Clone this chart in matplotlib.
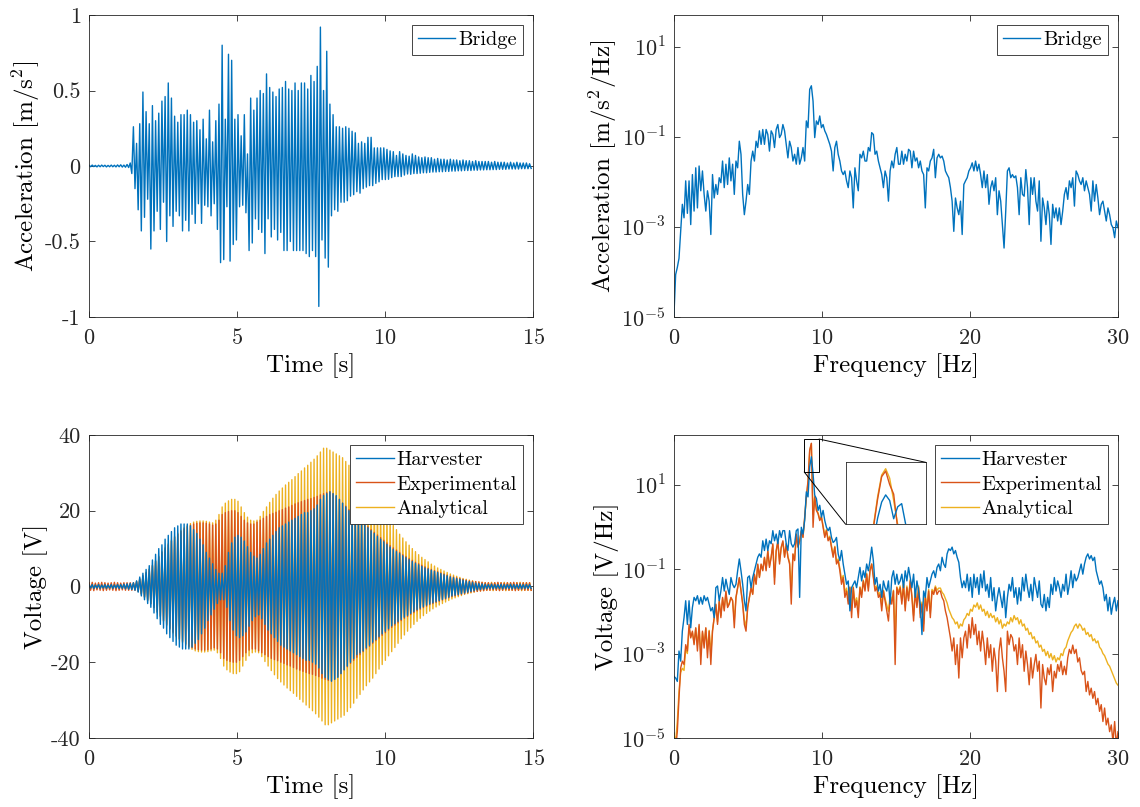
import numpy as np
import matplotlib
matplotlib.use("Agg")
import matplotlib.pyplot as plt
from matplotlib.patches import Rectangle, ConnectionPatch
from matplotlib.ticker import NullLocator

plt.rcParams['font.family'] = 'serif'
plt.rcParams['font.serif'] = ['cmr10']
plt.rcParams['mathtext.fontset'] = 'cm'
plt.rcParams['axes.unicode_minus'] = False
plt.rcParams['axes.formatter.use_mathtext'] = True

BLUE = '#0072BD'
RED = '#D95319'
YELLOW = '#EDB120'
AX_COLOR = '#262626'
LABEL_SIZE = 18

# peaks are sampled once per half period of the dominant bridge mode
carrier_hz = 9.34

# bridge acceleration: positive / negative peak per cycle [m/s^2]
accel_pos = [
    0.005, 0.006, 0.004, 0.005, 0.006, 0.005, 0.004, 0.006, 0.005, 0.007, 0.008, 0.006, 0.01, 0.02,
    0.26, 0.15, 0.28, 0.49, 0.36, 0.28, 0.40, 0.30, 0.35, 0.43, 0.46, 0.55, 0.45, 0.33, 0.29, 0.34,
    0.34, 0.37, 0.34, 0.29, 0.30, 0.24, 0.31, 0.18, 0.37, 0.16, 0.30, 0.41, 0.80, 0.31, 0.74, 0.70,
    0.31, 0.34, 0.20, 0.34, 0.08, 0.45, 0.37, 0.45, 0.50, 0.48, 0.61, 0.52, 0.49, 0.46, 0.51, 0.52,
    0.56, 0.51, 0.50, 0.55, 0.50, 0.55, 0.55, 0.51, 0.60, 0.56, 0.66, 0.92, 0.50, 0.76,
    0.41, 0.34, 0.26, 0.26, 0.25, 0.26, 0.25, 0.23, 0.22, 0.15, 0.16, 0.15, 0.19, 0.19, 0.12, 0.12,
    0.12, 0.12, 0.11, 0.10, 0.095, 0.07, 0.095, 0.08, 0.07, 0.065, 0.08, 0.07, 0.06, 0.055, 0.06,
    0.055, 0.055, 0.045, 0.05,
    0.045, 0.045, 0.04, 0.045, 0.04, 0.04, 0.035, 0.04, 0.035, 0.035, 0.03, 0.035, 0.03, 0.03, 0.03,
    0.03, 0.025, 0.03, 0.025, 0.025, 0.025, 0.02, 0.025, 0.02, 0.025, 0.02, 0.02, 0.02, 0.015,
]
accel_neg = [
    0.005, 0.004, 0.006, 0.005, 0.004, 0.006, 0.005, 0.005, 0.006, 0.005, 0.007, 0.008, 0.01, 0.05,
    0.15,
    0.29, 0.43, 0.34, 0.22, 0.55, 0.43, 0.30, 0.42, 0.24, 0.50, 0.33, 0.40, 0.30, 0.33, 0.43, 0.36,
    0.43, 0.32, 0.38, 0.25, 0.38, 0.26, 0.27, 0.33, 0.25, 0.42, 0.64, 0.62, 0.27, 0.63, 0.52, 0.49,
    0.27, 0.26, 0.31, 0.56, 0.51, 0.35, 0.42, 0.44, 0.58, 0.35, 0.47, 0.42, 0.49, 0.44, 0.56, 0.56,
    0.50, 0.56, 0.56, 0.56, 0.56, 0.58, 0.60, 0.56, 0.60, 0.93,
    0.49, 0.61, 0.67,
    0.33, 0.29, 0.30, 0.24, 0.24, 0.23, 0.20, 0.19, 0.17, 0.18, 0.15, 0.14, 0.13, 0.13, 0.115, 0.105,
    0.09, 0.09, 0.088, 0.077, 0.07, 0.07, 0.07, 0.06, 0.053, 0.055, 0.05, 0.05, 0.048, 0.045, 0.045,
    0.042, 0.04, 0.04, 0.038,
    0.038, 0.036, 0.036, 0.034, 0.034, 0.032, 0.032, 0.03, 0.03, 0.03, 0.028, 0.028, 0.026, 0.026,
    0.025, 0.025, 0.024, 0.024, 0.022, 0.022, 0.022, 0.02, 0.02, 0.02, 0.02, 0.018, 0.018, 0.018, 0.016,
]

# voltage amplitude per cycle [V]
harv_amp = [
    0.4, 0.5, 0.4, 0.5, 0.4, 0.5, 0.4, 0.5, 0.4, 0.5, 0.5, 0.6, 0.7, 0.8,
    1.0, 1.5, 2.5, 3.5, 4.5, 5.5, 7, 8.5, 10, 11, 12.5, 13.5, 14.5, 15.5,
    16, 16.5, 16.5, 16.5, 16, 15, 14, 12.5, 11, 9, 7.5, 6, 4.5, 3.5,
    3.5, 5.5, 9, 11.5, 13, 13.5, 13, 12, 10.5, 9, 8, 7.5, 8.5, 10,
    11.5, 12.5, 13.5, 14.5, 15.5, 16, 16.5, 17, 17.5, 18, 18.5, 19, 19.5, 19.5,
    20, 20.5, 21.5, 23, 24, 24.5, 25, 24.5, 24, 23, 22, 21, 20, 19,
    18, 17.5, 17, 16.2, 15.5, 14.7, 14, 13.2, 12.5, 11.8, 11.1, 10.4, 9.8, 9.2,
    8.7, 8.1, 7.6, 7.1, 6.6, 6.1, 5.7, 5.3, 4.9, 4.6, 4.3, 4.0, 3.7, 3.4,
    3.1, 2.8, 2.5, 2.3, 2.1, 1.9, 1.7, 1.5, 1.3, 1.1, 0.9, 0.8, 0.7, 0.6,
    0.5, 0.6, 0.5, 0.5, 0.6, 0.5, 0.5, 0.6, 0.5, 0.5, 0.6, 0.5, 0.5, 0.5,
]
exp_amp = [
    1.0, 1.1, 0.9, 1.0, 1.1, 1.0, 0.9, 1.0, 1.1, 1.0, 0.9, 1.0, 1.0, 1.0,
    1.0, 1.3, 2.0, 2.8, 3.6, 4.5, 5.5, 6.7, 7.8, 9.0, 10.0, 11.0, 12.0, 13.0,
    13.8, 14.5, 15.2, 15.8, 16.2, 16.5, 16.7, 16.8, 16.8, 16.7, 16.5, 16.2, 16.5, 17.5,
    19.0, 19.5, 19.8, 20.0, 20.0, 19.5, 18.5, 17.5, 16.8, 16.5, 16.5, 17.0, 17.5, 18.0,
    18.5, 19.0, 19.3, 19.6, 20.0, 20.3, 20.7, 21.0, 21.4, 21.8, 22.1, 22.4, 22.7, 23.0,
    23.2, 23.5, 23.8, 24.2, 24.5, 24.8, 25.0, 24.5, 23.8, 23.0, 22.0, 21.2, 20.3, 19.5,
    18.7, 18.0, 17.2, 16.5, 15.8, 15.0, 14.3, 13.6, 12.9, 12.2, 11.5, 10.8, 10.2, 9.6,
    9.0, 8.4, 7.9, 7.4, 6.9, 6.4, 6.0, 5.6, 5.2, 4.8, 4.5, 4.2, 3.9, 3.6,
    3.3, 3.0, 2.7, 2.5, 2.3, 2.1, 1.9, 1.7, 1.5, 1.4, 1.3, 1.2, 1.1, 1.0,
    1.0, 0.9, 1.0, 1.1, 1.0, 0.9, 1.0, 1.0, 1.1, 1.0, 0.9, 1.0, 1.0, 1.0,
]
ana_amp = [
    0.5, 0.4, 0.5, 0.5, 0.4, 0.5, 0.5, 0.4, 0.5, 0.5, 0.4, 0.5, 0.5, 0.6,
    0.8, 1.3, 2.0, 2.8, 3.7, 4.6, 5.6, 6.8, 8.0, 9.2, 10.3, 11.3, 12.3, 13.3,
    14.1, 14.8, 15.5, 16.1, 16.6, 17.0, 17.2, 17.3, 17.3, 17.2, 17.0, 16.8, 17.5, 19.0,
    21.0, 22.0, 22.6, 23.0, 23.0, 22.5, 21.0, 19.5, 18.3, 17.5, 17.3, 17.5, 18.5, 19.8,
    21.0, 22.2, 23.3, 24.3, 25.2, 26.0, 26.8, 27.5, 28.2, 29.0, 29.8, 30.5, 31.3, 32.0,
    32.8, 33.6, 34.5, 35.5, 36.5, 36.5, 36.0, 35.5, 35.0, 34.5, 34.0, 33.0, 32.0, 30.8,
    29.5, 28.5, 27.3, 26.2, 25.2, 24.2, 23.0, 21.8, 20.6, 19.5, 18.3, 17.2, 16.1, 15.0,
    13.8, 12.8, 11.8, 10.9, 10.0, 9.2, 8.4, 7.7, 7.1, 6.5, 5.9, 5.4, 4.9, 4.5,
    4.1, 3.7, 3.3, 3.0, 2.7, 2.4, 2.1, 1.9, 1.7, 1.5, 1.3, 1.2, 1.1, 1.0,
    1.0, 1.1, 1.0, 0.9, 1.0, 1.1, 1.0, 1.0, 0.9, 1.0, 1.1, 1.0, 1.0, 1.0,
]

# spectra, log10 of magnitude on an even grid from 0 to 30 Hz
bridge_psd_log = [
    -4.95, -4.06, -3.9, -3.7, -3.1, -2.5, -2.8, -1.98, -2.7, -1.98,
    -2.95, -1.84, -2.65, -1.69, -2.58, -1.65, -2.2, -1.76, -2.28, -2.65,
    -2.2, -2.43, -3.17, -1.84, -2.36, -2.06, -2.28, -1.91, -2.02, -1.54,
    -2.13, -1.61, -2.06, -1.47, -1.98, -1.61, -2.28, -1.54, -1.69, -1.1,
    -1.39, -2.28, -2.73, -2.43, -2.06, -2.28, -1.54, -1.32, -1.54, -1.1,
    -1.24, -0.87, -1.17, -0.84, -1.17, -0.84, -0.95, -1.32, -0.87, -0.95,
    -1.24, -0.84, -0.73, -1.02, -0.95, -0.73, -0.87, -1.17, -1.47, -1.1,
    -1.24, -1.54, -1.39, -1.61, -1.24, -1.61, -1.47, -1.24, -1.54, -0.65,
    -0.8, 0.05, 0.13, -0.21, -1.02, -0.65, -0.73, -0.54, -0.8, -0.73,
    -0.87, -0.95, -1.06, -1.17, -1.32, -1.76, -1.24, -1.1, -1.39, -1.54,
    -1.76, -1.84, -1.76, -1.98, -2.13, -1.76, -1.91, -2.58, -1.69, -1.98,
    -2.2, -1.39, -1.47, -1.32, -1.54, -1.54, -1.24, -1.32, -0.91, -0.95,
    -1.39, -1.32, -1.54, -1.69, -1.84, -2.13, -1.76, -1.91, -2.43, -1.76,
    -1.54, -1.69, -1.39, -1.24, -1.61,
    -1.61, -1.32, -1.61, -1.39, -1.54, -1.28, -1.32, -1.69, -1.32, -1.54,
    -1.47, -1.69, -1.54, -1.76, -1.84, -2.58, -1.69, -1.76, -1.54, -1.47,
    -1.28, -1.91, -1.47, -1.39, -1.47, -1.43, -1.54, -1.76, -1.84, -1.91,
    -2.13, -2.43, -3.1, -2.36, -2.58, -2.73, -2.43, -3.17, -2.06, -1.98,
    -1.91, -1.76, -1.69, -1.58, -1.76, -1.54, -1.76, -1.61, -1.84, -2.13,
    -1.76, -2.13, -1.84, -2.5, -2.13, -1.98, -2.2, -1.91, -2.73, -2.2,
    -2.43, -2.95, -3.47, -2.65, -1.76, -1.69, -1.91, -1.84, -1.91, -1.87,
    -2.13, -2.73, -1.91, -2.28, -2.32, -1.73, -2.13, -2.95, -1.91, -2.28,
    -1.91, -2.43, -2.65, -1.98, -3.32, -2.36, -2.58, -2.95, -2.43, -2.73,
    -3.39, -2.5, -2.8, -2.58, -2.87, -2.58, -2.95, -2.65, -2.28, -2.13,
    -2.39, -1.98, -2.13, -1.91, -2.54, -1.76, -1.84, -1.98, -2.06, -1.91,
    -2.2, -1.98, -2.13, -2.28, -2.65, -1.98, -2.43, -2.06, -2.36, -2.73,
    -2.5, -2.43, -2.65, -2.87, -2.58, -2.73, -2.95, -3.02, -3.24, -2.87,
    -3.02,
]
harv_psd_log = [
    -3.54, -3.58, -3.66, -2.94, -3.18, -2.47, -2.15, -1.75, -2.31, -1.75,
    -2.39, -1.91, -1.67, -1.75, -1.63, -1.83, -1.67, -1.83, -1.63, -1.75,
    -1.67, -1.83, -1.99, -1.91, -2.15, -1.44, -1.40, -1.75, -1.52, -1.2,
    -1.52, -1.24, -1.44, -1.6, -1.2, -1.36, -1.44, -1.36, -1.04, -0.76,
    -1.04, -1.36, -1.75, -1.99, -1.2, -1.16, -1.44, -1.2, -1.04, -0.88,
    -0.72, -0.64, -0.72, -0.33, -0.56, -0.29, -0.56, -0.33, -0.4, -0.09,
    -0.33, -0.17, -0.4, -0.09, -0.25, -0.09, -0.09, -0.4, -0.56, -0.09,
    -0.4, -0.48, -0.4, -0.09, -0.05, -1.67, -0.01, -0.17, 0.15, 0.83,
    0.71, 1.42, 1.66, 1.26, 0.75, 0.67, 0.39, 0.51, 0.23, 0.39,
    0.15, -0.01, -0.09, -0.01, -0.25, -0.37, -0.33, -0.25, -0.64, -0.8,
    -0.56, -0.88, -1.12, -1.36, -1.28, -1.99, -1.44, -1.36, -1.28, -1.44,
    -1.2, -0.96, -1.28, -1.04, -1.2, -0.88, -1.04, -0.8, -0.48, -0.8,
    -1.36, -1.2, -1.52, -1.36, -1.67, -1.28, -1.44, -1.52, -1.28, -1.83,
    -1.2, -1.04, -1.36, -1.12, -1.36,
    -1.28, -1.12, -1.44, -1.04, -1.28, -0.96, -1.2, -1.44, -1.12, -1.67,
    -1.28, -1.52, -1.83, -2.55, -1.52, -1.67, -1.2, -1.44, -1.28, -1.12,
    -1.04, -1.2, -0.96, -0.88, -1.04, -0.72, -0.88, -0.96, -0.64, -0.52,
    -0.56, -0.48, -0.64, -0.56, -0.72, -0.84, -1.2, -1.44, -1.28, -1.44,
    -1.12, -1.52, -1.2, -1.67, -1.12, -1.44, -1.2, -1.6, -1.12, -1.44,
    -1.04, -1.52, -1.36, -1.67, -1.2, -1.75, -1.44, -1.99, -1.67, -1.44,
    -1.67, -1.91, -1.52, -2.15, -1.67, -1.36, -1.52, -1.2, -1.67, -1.44,
    -1.83, -1.44, -1.75, -1.2, -1.52, -1.12, -1.44, -1.67, -1.36, -1.75,
    -1.2, -1.44, -1.67, -1.28, -1.83, -1.91, -1.6, -1.99, -1.67, -1.91,
    -1.36, -1.6, -1.2, -1.52, -1.28, -1.44, -1.67, -1.36, -1.52, -1.12,
    -1.6, -1.36, -1.04, -1.44, -1.12, -1.28, -1.2, -1.04, -0.88, -1.12,
    -0.88, -0.72, -0.64, -0.76, -0.68, -0.8, -0.72, -1.04, -1.2, -1.36,
    -1.28, -1.44, -1.75, -1.6, -1.99, -1.67, -2.07, -1.83, -1.67, -1.99,
    -1.75,
]
exp_psd_log = [
    -5.0, -5.25, -4.85, -4.06, -3.34, -3.18, -3.26, -2.79, -2.94, -2.31,
    -2.63, -2.47, -2.79, -2.39, -2.94, -2.31, -3.26, -2.47, -2.87, -2.39,
    -3.1, -2.47, -3.26, -2.47, -2.15, -1.83, -2.31, -1.75, -2.15, -1.67,
    -1.99, -1.52, -1.91, -1.83, -1.67, -1.75, -2.39, -1.67, -1.44, -1.2,
    -1.52, -1.83, -2.31, -2.47, -1.91, -1.67, -1.44, -1.6, -1.12, -1.36,
    -0.88, -1.2, -0.88, -1.04, -0.72, -1.04, -0.56, -0.96, -0.72, -0.4,
    -1.36, -0.56, -0.33, -0.88, -0.48, -0.33, -0.72, -0.4, -0.72, -0.88,
    -1.83, -0.64, -0.8, -0.17, -0.48, -0.33, -0.09, -0.25, 0.23, 0.71,
    1.1, 1.82, 1.98, -0.01, 0.71, 0.39, 0.31, 0.15, 0.23, -0.01,
    -0.25, -0.09, -0.33, -0.25, -0.48, -0.72, -0.48, -0.88, -0.8, -1.04,
    -1.36, -1.2, -1.67, -1.52, -1.83, -1.44, -2.15, -1.44, -1.91, -1.75,
    -2.15, -1.44, -1.67, -1.28, -1.52, -1.12, -1.52, -1.04, -0.88, -1.2,
    -1.52, -1.44, -1.67, -1.6, -1.99, -1.52, -1.75, -1.99, -2.23, -1.67,
    -1.83, -1.52, -3.26, -1.44, -1.6,
    -1.44, -1.83, -1.36, -1.99, -1.44, -1.75, -1.28, -1.67, -2.23, -1.52,
    -1.91, -1.44, -2.15, -1.83, -2.47, -1.67, -1.99, -1.52, -2.15, -1.52,
    -1.6, -1.44, -1.6, -1.52, -1.52, -1.67, -1.75, -1.99, -2.15, -2.39,
    -2.63, -2.94, -2.63, -3.26, -2.79, -3.58, -2.63, -3.1, -2.63, -2.47,
    -2.87, -2.31, -2.63, -2.15, -2.55, -2.31, -2.79, -2.47, -2.94, -2.47,
    -2.79, -3.26, -2.63, -3.1, -2.79, -3.42, -2.87, -3.18, -3.9, -2.94,
    -2.63, -3.1, -3.42, -3.9, -2.47, -2.79, -2.55, -2.63, -2.94, -2.79,
    -3.26, -2.63, -3.1, -2.79, -3.42, -2.94, -3.26, -3.74, -3.1, -3.58,
    -3.26, -3.02, -3.42, -3.18, -4.29, -3.26, -3.58, -3.74, -3.34, -3.5,
    -3.26, -3.9, -3.42, -3.58, -3.26, -3.42, -3.18, -3.5, -3.3, -3.5,
    -3.1, -2.9, -3.0, -2.8, -3.0, -2.9, -3.2, -3.1, -3.4, -3.5,
    -3.42, -3.9, -3.66, -3.98, -3.82, -4.06, -3.9, -4.21, -4.06, -4.37,
    -4.21, -4.61, -4.29, -4.69, -4.53, -4.85, -4.69, -5.09, -4.61, -5.17,
    -4.85,
]
ana_psd_log = [
    -4.9, -5.1, -4.6, -3.9, -3.45, -3.35, -3.4, -2.9, -3.0, -2.4,
    -2.6, -2.5, -2.75, -2.4, -2.8, -2.35, -3.0, -2.5, -2.75, -2.4,
    -2.9, -2.45, -3.0, -2.45, -2.15, -1.85, -2.25, -1.78, -2.1, -1.7,
    -1.95, -1.55, -1.88, -1.8, -1.68, -1.75, -2.2, -1.68, -1.45, -1.22,
    -1.5, -1.8, -2.2, -2.35, -1.9, -1.68, -1.46, -1.58, -1.14, -1.35,
    -0.9, -1.18, -0.9, -1.02, -0.74, -1.0, -0.58, -0.92, -0.72, -0.43,
    -1.2, -0.58, -0.36, -0.82, -0.5, -0.36, -0.7, -0.42, -0.7, -0.84,
    -1.5, -0.65, -0.78, -0.2, -0.47, -0.34, -0.1, -0.24, 0.2, 0.68,
    1.05, 1.8, 1.97, 0.3, 0.72, 0.42, 0.33, 0.18, 0.25, 0.02,
    -0.2, -0.06, -0.3, -0.22, -0.45, -0.66, -0.46, -0.82, -0.76, -0.98,
    -1.25, -1.15, -1.55, -1.45, -1.7, -1.42, -1.95, -1.42, -1.8, -1.68,
    -1.95, -1.42, -1.6, -1.26, -1.48, -1.1, -1.45, -1.02, -0.88, -1.16,
    -1.45, -1.4, -1.6, -1.55, -1.85, -1.5, -1.7, -1.85, -2.0, -1.62,
    -1.75, -1.5, -2.6, -1.42, -1.55,
    -1.40, -1.75, -1.32, -1.90, -1.40, -1.70, -1.25, -1.62, -2.10, -1.48,
    -1.85, -1.40, -2.05, -1.78, -2.30, -1.62, -1.90, -1.48, -2.05, -1.48,
    -1.55, -1.40, -1.50, -1.45, -1.45, -1.55,
    -1.6, -1.7, -1.8, -1.95, -2.05, -2.15, -2.2, -2.3, -2.25, -2.4,
    -2.3, -2.35, -2.2, -2.15, -2.05, -2.1, -1.95, -2.0, -1.85, -1.9,
    -1.8, -1.95, -1.85, -2.0, -1.95, -2.1, -2.0, -2.15, -2.05, -2.15,
    -2.1, -2.25, -2.15, -2.3, -2.2, -2.4, -2.3, -2.35, -2.25, -2.3,
    -2.15, -2.25, -2.1, -2.2, -2.15, -2.3, -2.2, -2.35, -2.3, -2.45,
    -2.4, -2.55, -2.5, -2.65, -2.6, -2.75, -2.7, -2.85, -2.8, -2.95,
    -2.9, -3.05, -2.95, -3.1, -3.0, -3.15, -3.05, -3.2, -3.1, -3.15,
    -3.0, -3.05, -2.9, -2.85, -2.7, -2.6, -2.5, -2.45, -2.35, -2.3,
    -2.4, -2.3, -2.35, -2.45, -2.4, -2.55, -2.5, -2.6, -2.55, -2.7,
    -2.65, -2.75, -2.7, -2.85, -2.9, -3.0, -3.05, -3.15, -3.25, -3.3,
    -3.4, -3.5, -3.6, -3.7, -3.75,
]

# finer look at the resonance peak
inset_freq = [9.10, 9.15, 9.20, 9.25, 9.30, 9.35, 9.40, 9.45, 9.50, 9.55, 9.60, 9.65]
inset_harv_log = [0.9, 1.1, 1.38, 1.58, 1.67, 1.60, 1.37, 1.52, 1.56, 1.30, 1.05, 0.85]
inset_exp_log = [1.0, 1.28, 1.62, 1.90, 1.97, 1.80, 1.68, 1.25, 0.95, 0.75, 0.65, 0.55]
inset_ana_log = [1.0, 1.30, 1.65, 1.92, 2.00, 1.88, 1.60, 1.30, 1.00, 0.80, 0.70, 0.60]
zoom_f = (8.8, 9.8)
zoom_log = (1.3, 2.08)


def zigzag(pos, neg):
    pos = np.asarray(pos, dtype=float)
    neg = np.asarray(neg, dtype=float)
    k = np.arange(len(pos))
    t = np.empty(2 * len(pos))
    y = np.empty(2 * len(pos))
    t[0::2] = k / carrier_hz
    t[1::2] = (k + 0.5) / carrier_hz
    y[0::2] = pos
    y[1::2] = -neg
    return t, y


def spectrum(vals):
    vals = np.asarray(vals, dtype=float)
    return np.linspace(0, 30, len(vals)), 10.0 ** vals


def style(ax):
    for s in ax.spines.values():
        s.set_color(AX_COLOR)
        s.set_linewidth(0.6)
    ax.tick_params(direction='in', top=True, right=True, length=4, width=0.6,
                   colors=AX_COLOR, labelsize=16)
    ax.tick_params(axis='x', pad=8)
    ax.tick_params(axis='y', pad=6)


def legend(ax, handles, labels):
    leg = ax.legend(handles, labels, loc='upper right', fontsize=14.7, frameon=True,
                    fancybox=False, edgecolor=AX_COLOR, framealpha=1,
                    handlelength=1.85, handletextpad=0.15, borderpad=0.28,
                    labelspacing=0.3, borderaxespad=0.5)
    leg.get_frame().set_linewidth(0.6)


def log_axis(ax, top):
    ax.set_yscale('log')
    ax.set_ylim(1e-5, top)
    ax.set_yticks([1e-5, 1e-3, 1e-1, 1e1])
    ax.set_yticklabels(['$10^{-5}$', '$10^{-3}$', '$10^{-1}$', '$10^{1}$'])
    ax.yaxis.set_minor_locator(NullLocator())
    ax.set_xlim(0, 30)
    ax.set_xticks([0, 10, 20, 30])
    ax.set_xlabel('Frequency [Hz]', fontsize=LABEL_SIZE)


fig = plt.figure(figsize=(11.4, 8.07), dpi=100)
ax1 = fig.add_axes([0.0781, 0.6072, 0.3895, 0.3742])
ax2 = fig.add_axes([0.5912, 0.6072, 0.3895, 0.3742])
ax3 = fig.add_axes([0.0781, 0.0855, 0.3895, 0.3755])
ax4 = fig.add_axes([0.5912, 0.0855, 0.3895, 0.3755])

# bridge acceleration in time
t, a = zigzag(accel_pos, accel_neg)
l1, = ax1.plot(t, a, color=BLUE, lw=1.0)
ax1.set_xlim(0, 15)
ax1.set_ylim(-1, 1)
ax1.set_xticks([0, 5, 10, 15])
ax1.set_yticks([-1, -0.5, 0, 0.5, 1])
ax1.set_yticklabels(['-1', '-0.5', '0', '0.5', '1'])
ax1.set_xlabel('Time [s]', fontsize=LABEL_SIZE)
ax1.set_ylabel('Acceleration [m/s$^2$]', fontsize=LABEL_SIZE, labelpad=2)
style(ax1)
legend(ax1, [l1], ['Bridge'])

# bridge acceleration spectrum
f, p = spectrum(bridge_psd_log)
l2, = ax2.plot(f, p, color=BLUE, lw=1.0)
log_axis(ax2, 10 ** 1.7)
ax2.set_ylabel('Acceleration [m/s$^2$/Hz]', fontsize=LABEL_SIZE, labelpad=2)
style(ax2)
legend(ax2, [l2], ['Bridge'])

# harvester voltage in time
ty, vy = zigzag(ana_amp, ana_amp)
tr, vr = zigzag(exp_amp, exp_amp)
tb, vb = zigzag(harv_amp, harv_amp)
ly, = ax3.plot(ty, vy, color=YELLOW, lw=1.0)
lr, = ax3.plot(tr, vr, color=RED, lw=1.0)
lb, = ax3.plot(tb, vb, color=BLUE, lw=1.0)
ax3.set_xlim(0, 15)
ax3.set_ylim(-40, 40)
ax3.set_xticks([0, 5, 10, 15])
ax3.set_yticks([-40, -20, 0, 20, 40])
ax3.set_yticklabels(['-40', '-20', '0', '20', '40'])
ax3.set_xlabel('Time [s]', fontsize=LABEL_SIZE)
ax3.set_ylabel('Voltage [V]', fontsize=LABEL_SIZE, labelpad=2)
style(ax3)
legend(ax3, [lb, lr, ly], ['Harvester', 'Experimental', 'Analytical'])

# voltage spectrum
for vals, col in [(ana_psd_log, YELLOW), (exp_psd_log, RED), (harv_psd_log, BLUE)]:
    f, p = spectrum(vals)
    ax4.plot(f, p, color=col, lw=1.0)
log_axis(ax4, 150)
ax4.set_ylabel('Voltage [V/Hz]', fontsize=LABEL_SIZE, labelpad=2)
style(ax4)
legend(ax4, ax4.get_lines()[::-1], ['Harvester', 'Experimental', 'Analytical'])

# zoom box on the resonance and its inset
lo, hi = 10 ** zoom_log[0], 10 ** zoom_log[1]
ax4.add_patch(Rectangle((zoom_f[0], lo), zoom_f[1] - zoom_f[0], hi - lo,
                        fill=False, ec='k', lw=0.7, zorder=5))
axin = fig.add_axes([0.7418, 0.3503, 0.0702, 0.0768])
for vals, col in [(inset_ana_log, YELLOW), (inset_exp_log, RED), (inset_harv_log, BLUE)]:
    axin.plot(inset_freq, 10.0 ** np.asarray(vals), color=col, lw=1.0)
axin.set_yscale('log')
axin.set_xlim(*zoom_f)
axin.set_ylim(lo, hi)
axin.set_xticks([])
axin.set_yticks([])
axin.yaxis.set_minor_locator(NullLocator())
for s in axin.spines.values():
    s.set_color(AX_COLOR)
    s.set_linewidth(0.6)
for xy_a, xy_b in [((zoom_f[1], hi), (1, 1)), ((zoom_f[0], lo), (0, 0))]:
    con = ConnectionPatch(xyA=xy_a, coordsA=ax4.transData, xyB=xy_b,
                          coordsB=axin.transAxes, color='k', lw=0.7)
    fig.add_artist(con)

fig.savefig('out.png', dpi=100)
